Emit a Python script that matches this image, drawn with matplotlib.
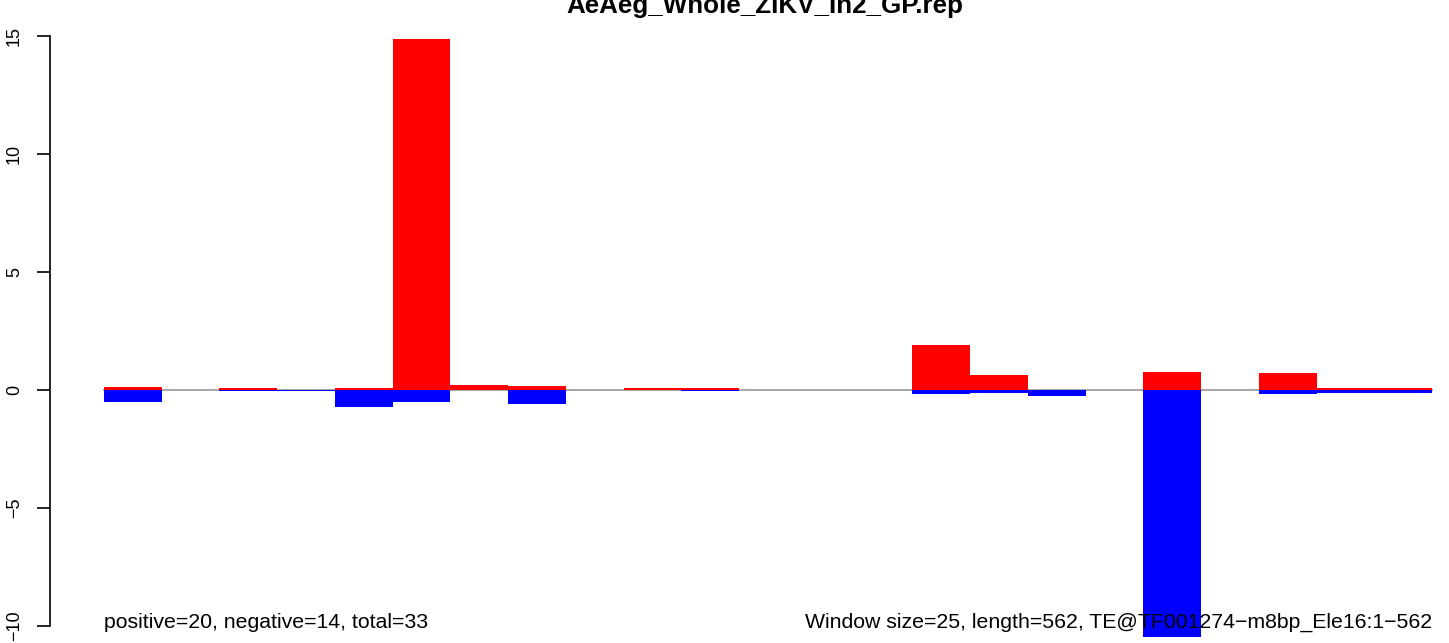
import numpy as np
import matplotlib
matplotlib.use('Agg')
import matplotlib.pyplot as plt

plt.rcParams['font.family'] = ['Liberation Sans', 'DejaVu Sans']

title = "AeAeg_Whole_ZIKV_In2_GP.rep"
window = 25
length = 562
pos_vals = [0.13, 0, 0.085, 0, 0.08, 14.87, 0.2, 0.17, 0, 0.08, 0.08, 0, 0, 0,
            1.91, 0.64, 0, 0, 0.76, 0, 0.72, 0.08, 0.08]
neg_vals = [-0.51, 0, -0.05, -0.05, -0.72, -0.5, 0, -0.59, 0, 0, -0.05, 0, 0, 0,
            -0.17, -0.13, -0.25, 0, -10.47, 0, -0.17, -0.13, -0.13]
yticks = [-10, -5, 0, 5, 10, 15]
left_note = "positive=20, negative=14, total=33"
right_note = "Window size=25, length=562, TE@TF001274\u2212m8bp_Ele16:1\u2212562"

W, H = 1449, 643
fig = plt.figure(figsize=(W / 100, H / 100), dpi=100)
ax = fig.add_axes([50 / W, 0, 1 - 50 / W, 1])

# pixel scale of the original: x=0 at 104px, 57.74 px per window; y=0 at 390px, 23.6 px per unit
xpx, ypx = 57.74, 23.6
ax.set_xlim((50 - 104) / xpx, (W - 104) / xpx)
ax.set_ylim(-(H - 390) / ypx, 390 / ypx)

n = len(pos_vals)
x = np.arange(n)
ax.plot([0, n], [0, 0], color='#a0a0a0', lw=1.3, zorder=1)
ax.bar(x, pos_vals, width=1, align='edge', color='#ff0000', lw=0, zorder=2)
ax.bar(x, neg_vals, width=1, align='edge', color='#0000ff', lw=0, zorder=2)

for s in ['top', 'right', 'bottom']:
    ax.spines[s].set_visible(False)
ax.spines['left'].set_bounds(-10, 15)
ax.spines['left'].set_linewidth(1.2)
ax.set_xticks([])
ax.set_yticks(yticks)
ax.tick_params(axis='y', length=9.4, width=1.2, pad=10, labelsize=13)
for lab in ax.get_yticklabels():
    lab.set_rotation(90)
    lab.set_va('center')

ax.text(0, -10.08, left_note, fontsize=15.3, ha='left', va='baseline', zorder=3)
ax.text(n, -10.08, right_note, fontsize=15.3, ha='right', va='baseline', zorder=3)

fig.text(765 / W, 1 - 12.7 / H, title, fontsize=18.7, fontweight='bold',
         ha='center', va='baseline')

fig.savefig('out.png', dpi=100)
